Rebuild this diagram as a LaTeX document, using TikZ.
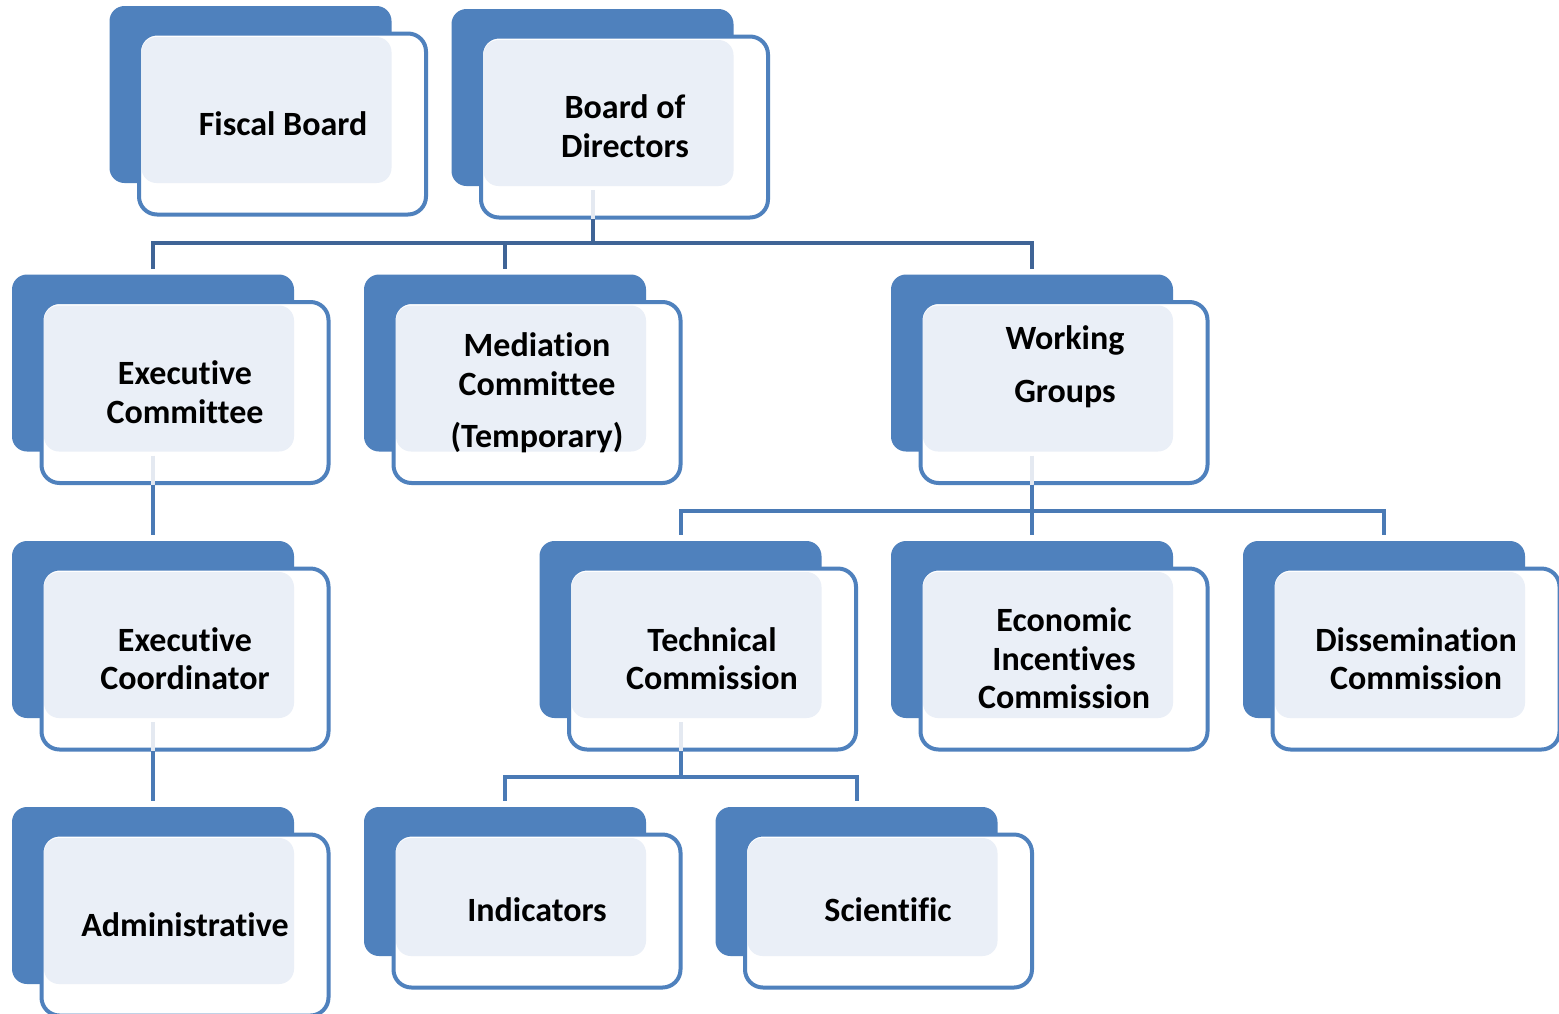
\documentclass[tikz,border=0pt]{standalone}
\usepackage{fontspec}
\setmainfont[RawFeature={-liga;-clig;-calt;-dlig;-rlig}]{Carlito}
\definecolor{bluefill}{HTML}{4F81BD}
\definecolor{lightfill}{HTML}{EAEFF7}
\definecolor{conndark}{HTML}{3F6496}
\definecolor{connmid}{HTML}{4A7AB5}
\definecolor{faint}{HTML}{E4E9F1}
\tikzset{
  bluebox/.style={fill=bluefill, rounded corners=15pt},
  lightbox/.style={fill=lightfill, rounded corners=15pt},
  outlbox/.style={draw=bluefill, fill=white, line width=4pt, rounded corners=18pt,
    minimum width=287pt, inner sep=0pt, outer sep=0pt},
  txt/.style={font=\bfseries\fontsize{34}{38.5}\selectfont, align=center, inner sep=0pt, text=black},
  conntop/.style={draw=conndark, line width=4pt},
  conn/.style={draw=connmid, line width=4pt},
  connfaint/.style={draw=faint, line width=4pt},
}
% #1 half height of outline, #2 name, #3 cx, #4 cy
\newcommand\orgunit[4][92]{%
  \fill[bluebox] (#3-173,#4-#1-26) rectangle (#3+109,#4+#1-33);
  \node[outlbox, minimum height=2*#1-3] (#2) at (#3,#4) {};
  \fill[lightbox] (#3-141,#4-#1+5) rectangle (#3+109,#4+#1-33);
  \coordinate (#2-top) at (#3-32,#4-#1-32);
  \coordinate (#2-in) at (#3-32,#4+#1-29);
  \coordinate (#2-bot) at (#3-32,#4+#1);
}
\begin{document}
\begin{tikzpicture}[x=1pt,y=-1pt]
\clip (0,0) rectangle (1559,1013);
\useasboundingbox (0,0) rectangle (1559,1013);
\fill[white] (0,0) rectangle (1559,1013);
% units
\orgunit{fb}{282.5}{124}
\orgunit{bd}{624.5}{127}
\orgunit{ec}{185}{392.5}
\orgunit{mc}{537}{392.5}
\orgunit{wg}{1064}{392.5}
\orgunit{eco}{185}{659}
\orgunit{tc}{712.5}{659}
\orgunit{ei}{1064}{659}
\orgunit{dc}{1416}{659}
\orgunit{ad}{185}{925}
\orgunit[78]{ind}{537}{911}
\orgunit[78]{sc}{888.5}{911}
% texts
\node[txt] (fb-t) at (283,124) {Fiscal Board};
\node[txt] (bd-t) at (625,126) {Board of\\Directors};
\node[txt] (ec-t) at (185,392) {Executive\\Committee};
\node[txt] (mc-t) at (537,393) {Mediation\\Committee\\[14pt](Temporary)};
\node[txt] (wg-t) at (1065,366.5) {Working\\[15pt]Groups};
\node[txt] (eco-t) at (185,658.5) {Executive\\Coordinator};
\node[txt] (tc-t) at (712,658.5) {Technical\\Commission};
\node[txt] (ei-t) at (1064,658.5) {Economic\\Incentives\\Commission};
\node[txt] (dc-t) at (1416,658.5) {Dissemination\\Commission};
\node[txt] (ad-t) at (185,925) {Administrative};
\node[txt] (ind-t) at (537,910) {Indicators};
\node[txt] (sc-t) at (888,910) {Scientific};
% faint inner segments
\draw[connfaint] (bd-in) -- (bd-bot);
\draw[connfaint] (ec-in) -- (ec-bot);
\draw[connfaint] (wg-in) -- (wg-bot);
\draw[connfaint] (eco-in) -- (eco-bot);
\draw[connfaint] (tc-in) -- (tc-bot);
% connectors
\draw[conntop] (bd-bot) -- ++(0,24) -| (ec-top);
\draw[conntop] (bd-bot) -- ++(0,24) -| (mc-top);
\draw[conntop] (bd-bot) -- ++(0,24) -| (wg-top);
\draw[conn] (ec-bot) -- (eco-top);
\draw[conn] (eco-bot) -- (ad-top);
\draw[conn] (wg-bot) -- ++(0,26.5) -| (tc-top);
\draw[conn] (wg-bot) -- ++(0,26.5) -| (ei-top);
\draw[conn] (wg-bot) -- ++(0,26.5) -| (dc-top);
\draw[conn] (tc-bot) -- ++(0,26) -| (ind-top);
\draw[conn] (tc-bot) -- ++(0,26) -| (sc-top);
\end{tikzpicture}
\end{document}
